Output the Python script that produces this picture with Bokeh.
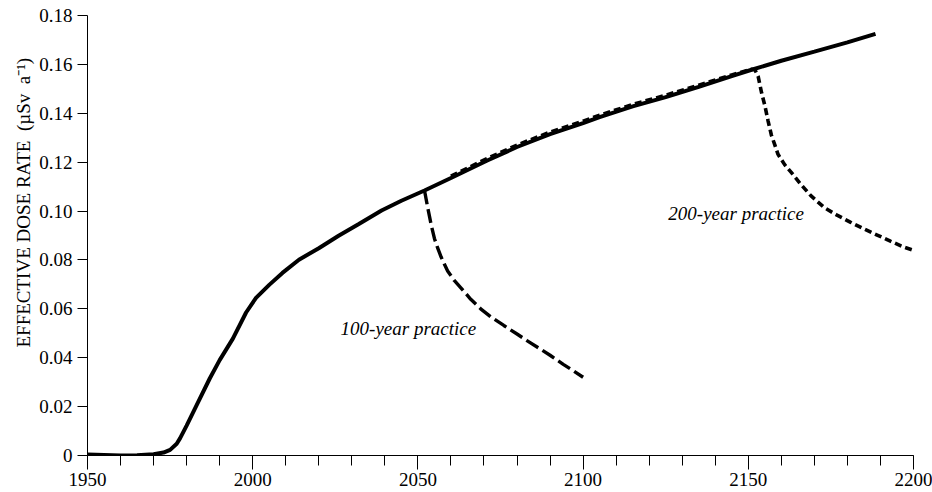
from bokeh.plotting import figure
from bokeh.models import Range1d, FixedTicker, PrintfTickFormatter, Label, Title
from bokeh.embed import file_html
from bokeh.resources import INLINE

# ---- data ----
main_years = [1950, 1955, 1960, 1965, 1970, 1973, 1975, 1977, 1978, 1980, 1983, 1987, 1990,
              1994, 1998, 2001, 2005, 2009, 2014, 2020, 2026, 2032, 2039, 2045, 2052, 2060,
              2071, 2080, 2090, 2100, 2105, 2115, 2125, 2135, 2145, 2151, 2160, 2170, 2180, 2188.5]
main_dose = [0.0004, 0.0002, 0.0, 0.0001, 0.0005, 0.0012, 0.0023, 0.0048, 0.007, 0.0122, 0.0205,
             0.0315, 0.039, 0.0478, 0.0585, 0.0645, 0.0698, 0.0747, 0.0801, 0.0848, 0.0899, 0.0946,
             0.1002, 0.1042, 0.1084, 0.1135, 0.1207, 0.1262, 0.1315, 0.136, 0.1384, 0.1428, 0.1466,
             0.1508, 0.1552, 0.1578, 0.1615, 0.1652, 0.169, 0.1725]

y100_years = [2052, 2053, 2054, 2055, 2056, 2057, 2058, 2059, 2061, 2063, 2066, 2069, 2072,
              2076, 2080, 2083, 2087, 2090, 2094, 2097, 2100]
y100_dose = [0.1084, 0.1012, 0.0945, 0.0888, 0.0848, 0.0813, 0.0783, 0.0755, 0.0716, 0.0686,
             0.0639, 0.060, 0.0568, 0.0532, 0.0497, 0.047, 0.0436, 0.041, 0.0373, 0.0347, 0.032]

y200_years = [2060, 2071, 2080, 2090, 2100, 2105, 2115, 2125, 2135, 2145, 2151, 2152, 2153, 2154,
              2155, 2156, 2157, 2158, 2159, 2161, 2163, 2166, 2169, 2173, 2177, 2181, 2185, 2189,
              2193, 2197, 2200]
y200_dose = [0.1143, 0.1215, 0.127, 0.1323, 0.1368, 0.1392, 0.1436, 0.1474, 0.1515, 0.1557, 0.158,
             0.1578, 0.155, 0.1485, 0.1432, 0.1368, 0.131, 0.1272, 0.1232, 0.119, 0.1158, 0.1108,
             0.1062, 0.1014, 0.0982, 0.0954, 0.0927, 0.0902, 0.0877, 0.0853, 0.0839]

x_major_ticks = [1950, 2000, 2050, 2100, 2150, 2200]
x_minor_ticks = list(range(1950, 2201, 10))
y_ticks = [0, 0.02, 0.04, 0.06, 0.08, 0.10, 0.12, 0.14, 0.16, 0.18]

y_title = "EFFECTIVE DOSE RATE\u00a0\u00a0(µSv\u00a0\u00a0a⁻¹)"
label_100 = "100-year practice"
label_200 = "200-year practice"

FONT = "Liberation Serif"

p = figure(width=932, height=492, output_backend="svg", toolbar_location=None,
           x_range=Range1d(1950, 2200), y_range=Range1d(0, 0.18),
           min_border_left=87, min_border_right=19, min_border_top=15, min_border_bottom=37)
p.outline_line_color = None
p.grid.visible = False
p.background_fill_color = "white"
p.border_fill_color = "white"

# lines
p.line(y200_years, y200_dose, line_color="black", line_width=3.6, line_dash="7 4")
p.line(y100_years, y100_dose, line_color="black", line_width=3.4, line_dash="14 5")
p.line(main_years, main_dose, line_color="black", line_width=4)

# axes
xa = p.xaxis[0]
xa.ticker = FixedTicker(ticks=x_major_ticks, minor_ticks=x_minor_ticks)
xa.major_tick_out = 14
xa.major_tick_in = 0
xa.minor_tick_out = 10
xa.minor_tick_in = 0
xa.major_label_standoff = 3

ya = p.yaxis[0]
ya.ticker = FixedTicker(ticks=y_ticks, minor_ticks=[])
ya.formatter = PrintfTickFormatter(format="%.2f")
ya.major_label_overrides = {0: "0"}
ya.major_tick_out = 10
ya.major_tick_in = 0
ya.minor_tick_out = 0
ya.minor_tick_in = 0
ya.major_label_standoff = 5

for ax in (xa, ya):
    ax.axis_line_color = "black"
    ax.axis_line_width = 1
    ax.major_tick_line_color = "black"
    ax.minor_tick_line_color = "black"
    ax.major_label_text_font = FONT
    ax.major_label_text_font_size = "19px"
    ax.major_label_text_color = "black"
    ax.axis_label = None

p.add_layout(Title(text=y_title, align="left", offset=108, standoff=6,
                   text_font=FONT, text_font_size="19px", text_font_style="normal",
                   text_color="black"), "left")

p.add_layout(Label(x=2026.6, y=0.052, text=label_100, text_font=FONT, text_font_size="19px",
                   text_font_style="italic", text_color="black", text_baseline="alphabetic"))
p.add_layout(Label(x=2125.8, y=0.099, text=label_200, text_font=FONT, text_font_size="19px",
                   text_font_style="italic", text_color="black", text_baseline="alphabetic"))

open("out.html", "w").write(file_html(p, INLINE))
